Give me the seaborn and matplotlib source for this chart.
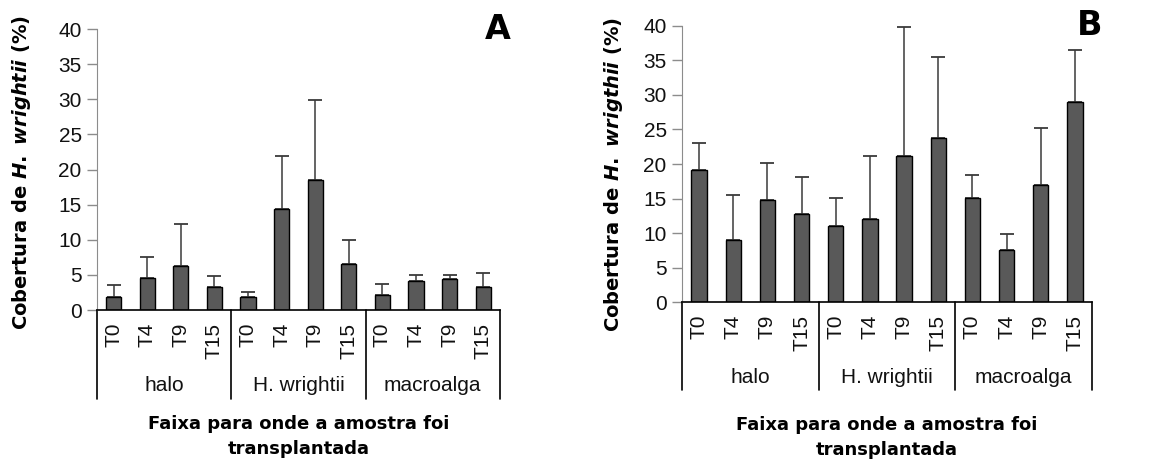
import matplotlib
matplotlib.use("Agg")
import matplotlib.pyplot as plt
import matplotlib.transforms as mtransforms
import pandas as pd
import seaborn as sns

# Dados
grupos = ["halo", "H. wrightii", "macroalga"]
tempos = ["T0", "T4", "T9", "T15"]

media_a = [1.9, 4.6, 6.3, 3.3,
           1.9, 14.4, 18.5, 6.5,
           2.1, 4.2, 4.4, 3.3]
erro_a = [1.6, 3.0, 5.9, 1.6,
          0.6, 7.6, 11.4, 3.5,
          1.6, 0.8, 0.6, 2.0]

media_b = [19.1, 9.0, 14.8, 12.7,
           11.1, 12.1, 21.2, 23.8,
           15.1, 7.6, 17.0, 29.0]
erro_b = [4.0, 6.5, 5.4, 5.4,
          4.0, 9.1, 18.6, 11.7,
          3.3, 2.3, 8.2, 7.5]

sns.set_style("white")
plt.rcParams["font.family"] = ["Liberation Sans", "DejaVu Sans"]
plt.rcParams["mathtext.fontset"] = "custom"
plt.rcParams["mathtext.it"] = "DejaVu Sans:italic:bold"
plt.rcParams["mathtext.rm"] = "DejaVu Sans:bold"

COR_BARRA = "#595959"
COR_EIXO = "#8c8c8c"


# Função encargada de:
# - Desenhar um painel com barras, erros e eixo categórico agrupado
def desenhar_painel(ax, medias, erros, ylabel, letra, lab_x, lab_y, grp_y, sep_y, xl_y):
    rotulos = [f"{g}|{t}" for g in grupos for t in tempos]
    df = pd.DataFrame({"pos": rotulos, "valor": medias, "erro": erros})
    sns.barplot(data=df, x="pos", y="valor", order=rotulos, color=COR_BARRA,
                edgecolor="black", linewidth=1.0, width=0.45, errorbar=None,
                saturation=1, ax=ax)

    centros = [p.get_x() + p.get_width() / 2 for p in ax.patches]
    alturas = [p.get_height() for p in ax.patches]
    ax.errorbar(centros, alturas, yerr=[[0] * len(erros), df["erro"]], fmt="none",
                ecolor="#3a3a3a", elinewidth=1.1, capsize=5, capthick=1.3, zorder=1)
    for p in ax.patches:
        p.set_zorder(2)

    n = len(rotulos)
    ax.set_xlim(-0.5, n - 0.5)
    ax.set_ylim(0, 40)
    ax.set_yticks(range(0, 41, 5))
    ax.set_xticks(range(n))
    ax.set_xticklabels(tempos * len(grupos), rotation=90, fontsize=15, color="#111111")
    ax.tick_params(axis="x", length=0, pad=9)
    ax.tick_params(axis="y", length=7, width=1, color=COR_EIXO, labelsize=15,
                   labelcolor="#111111", pad=4, left=True)
    ax.set_xlabel("")
    ax.set_ylabel("")

    for s in ["top", "right"]:
        ax.spines[s].set_visible(False)
    ax.spines["left"].set_color(COR_EIXO)
    ax.spines["bottom"].set_color("black")
    ax.spines["bottom"].set_linewidth(1.2)

    trans = mtransforms.blended_transform_factory(ax.transData, ax.transAxes)
    for k in range(len(grupos) + 1):
        xs = -0.5 + 4 * k
        ax.plot([xs, xs], [0, sep_y], color="black", lw=1.2, transform=trans, clip_on=False)
    for k, g in enumerate(grupos):
        ax.text(1.5 + 4 * k, grp_y, g, transform=trans, ha="center", va="center",
                fontsize=15, color="#111111")

    ax.text(lab_x, lab_y, ylabel, transform=ax.transAxes, rotation=90, ha="center",
            va="center", fontsize=14, fontweight="bold", family="DejaVu Sans", color="black")
    ax.text(0.5, xl_y, "Faixa para onde a amostra foi\ntransplantada", transform=ax.transAxes,
            ha="center", va="center", fontsize=13, fontweight="bold", family="DejaVu Sans",
            linespacing=1.5, color="black")
    ax.text(0.995, 1.0, letra, transform=ax.transAxes, ha="center", va="center",
            fontsize=24, fontweight="bold", family="DejaVu Sans", color="black")


fig = plt.figure(figsize=(11.68, 4.59), dpi=100)
ax_a = fig.add_axes([0.0830, 0.3246, 0.345, 0.612])
ax_b = fig.add_axes([0.5839, 0.3414, 0.351, 0.6026])

desenhar_painel(ax_a, media_a, erro_a, r"Cobertura de $\it{H.\ wrightii}$ (%)", "A",
                -0.186, 0.49, -0.267, -0.317, -0.450)
desenhar_painel(ax_b, media_b, erro_b, r"Cobertura de $\it{H.\ wrigthii}$ (%)", "B",
                -0.168, 0.464, -0.271, -0.318, -0.488)

fig.savefig("out.png", dpi=100)
plt.close(fig)
